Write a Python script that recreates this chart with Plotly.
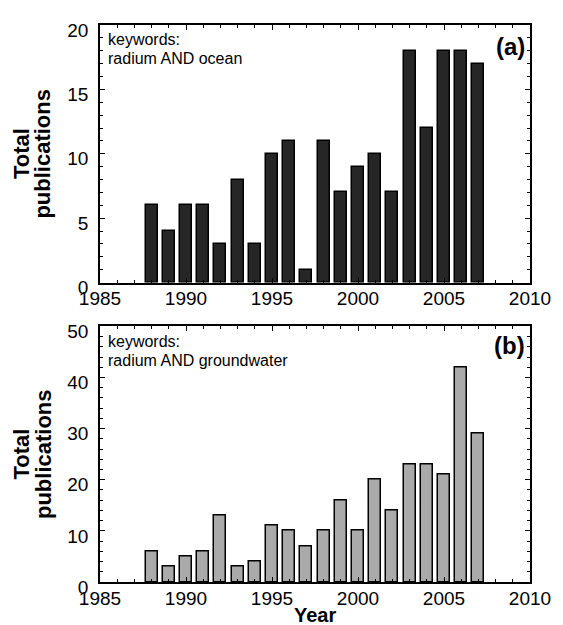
import plotly.graph_objects as go

years = list(range(1988, 2008))
ocean = [6, 4, 6, 6, 3, 8, 3, 10, 11, 1, 11, 7, 9, 10, 7, 18, 12, 18, 18, 17]
groundwater = [6, 3, 5, 6, 13, 3, 4, 11, 10, 7, 10, 16, 10, 20, 14, 23, 23, 21, 42, 29]

x_ticks = [1985, 1990, 1995, 2000, 2005, 2010]
y1_ticks = [0, 5, 10, 15, 20]
y2_ticks = [0, 10, 20, 30, 40, 50]

FONT = "Liberation Sans, Arial, Helvetica, sans-serif"

fig = go.Figure()
fig.add_trace(go.Bar(x=years, y=ocean, width=0.7, xaxis="x", yaxis="y",
                     marker=dict(color="#262626", line=dict(color="black", width=1.5)),
                     showlegend=False))
fig.add_trace(go.Bar(x=years, y=groundwater, width=0.7, xaxis="x2", yaxis="y2",
                     marker=dict(color="#aaaaaa", line=dict(color="black", width=1.5)),
                     showlegend=False))

def minor(dt, t0):
    return dict(ticks="inside", dtick=dt, tick0=t0, ticklen=3, tickcolor="black",
                tickwidth=1, showgrid=False)

def xax(anchor, labels=True, side="bottom", overlay=None):
    d = dict(range=[1985, 2010], tickvals=x_ticks, ticks="inside", ticklen=5,
             tickwidth=1.2, tickcolor="black", showgrid=False, zeroline=False,
             anchor=anchor, side=side, tickfont=dict(size=19, color="black"),
             showticklabels=labels, minor=minor(1, 1985), fixedrange=True,
             ticklabelstandoff=-2)
    if overlay:
        d.update(overlaying=overlay, showline=False)
    else:
        d.update(showline=True, linecolor="black", linewidth=1.5, mirror=True)
    return d

def yax(anchor, rng, tv, mdt, dom=None, labels=True, side="left", overlay=None):
    d = dict(range=rng, tickvals=tv, ticks="inside", ticklen=5, tickwidth=1.2,
             tickcolor="black", showgrid=False, zeroline=False, anchor=anchor,
             side=side, tickfont=dict(size=19, color="black"),
             showticklabels=labels, ticklabelstandoff=6, ticklabelshift=5,
             minor=minor(mdt, 0), fixedrange=True)
    if dom is not None:
        d["domain"] = dom
    if overlay:
        d.update(overlaying=overlay, showline=False)
    else:
        d.update(showline=True, linecolor="black", linewidth=1.5, mirror=True)
    return d

fig.update_layout(
    width=555, height=617,
    margin=dict(l=92, r=25, t=16, b=43),
    plot_bgcolor="white", paper_bgcolor="white",
    font=dict(family=FONT, color="black"),
    bargap=0,
    xaxis=xax("y"),
    yaxis=yax("x", [0, 20], y1_ticks, 1, [0.5376, 1.0]),
    xaxis2=xax("y2"),
    yaxis2=yax("x2", [0, 50], y2_ticks, 2, [0.0, 0.4588]),
    xaxis3=xax("y", labels=False, side="top", overlay="x"),
    yaxis3=yax("x", [0, 20], y1_ticks, 1, labels=False, side="right", overlay="y"),
    xaxis4=xax("y2", labels=False, side="top", overlay="x2"),
    yaxis4=yax("x2", [0, 50], y2_ticks, 2, labels=False, side="right", overlay="y2"),
)
# invisible helper traces so the mirrored tick axes are drawn
fig.add_trace(go.Scatter(x=[1985], y=[0], xaxis="x3", yaxis="y3", mode="markers",
                         marker=dict(opacity=0), showlegend=False, hoverinfo="skip"))
fig.add_trace(go.Scatter(x=[1985], y=[0], xaxis="x4", yaxis="y4", mode="markers",
                         marker=dict(opacity=0), showlegend=False, hoverinfo="skip"))

def txt(s, xref, yref, x, y, size, xanchor="left", bold=False, angle=0):
    return dict(text=("<b>%s</b>" % s) if bold else s, xref=xref, yref=yref, x=x, y=y,
                xanchor=xanchor, yanchor="middle", showarrow=False,
                textangle=angle, font=dict(size=size))

ann = [
    txt("keywords:", "x domain", "y domain", 0.013, 0.942, 16),
    txt("radium AND ocean", "x domain", "y domain", 0.013, 0.868, 16),
    txt("(a)", "x domain", "y domain", 0.993, 0.915, 24, xanchor="right", bold=True),
    txt("keywords:", "x2 domain", "y2 domain", 0.013, 0.942, 16),
    txt("radium AND groundwater", "x2 domain", "y2 domain", 0.013, 0.867, 16),
    txt("(b)", "x2 domain", "y2 domain", 0.993, 0.926, 24, xanchor="right", bold=True),
    txt("Total", "paper", "y domain", -0.183, 0.5, 22, xanchor="center", bold=True, angle=-90),
    txt("publications", "paper", "y domain", -0.133, 0.5, 22, xanchor="center", bold=True, angle=-90),
    txt("Total", "paper", "y2 domain", -0.183, 0.5, 22, xanchor="center", bold=True, angle=-90),
    txt("publications", "paper", "y2 domain", -0.133, 0.5, 22, xanchor="center", bold=True, angle=-90),
    txt("Year", "paper", "paper", 0.5, -0.060, 20, xanchor="center", bold=True),
]
fig.update_layout(annotations=ann)

fig.write_html("out.html")
